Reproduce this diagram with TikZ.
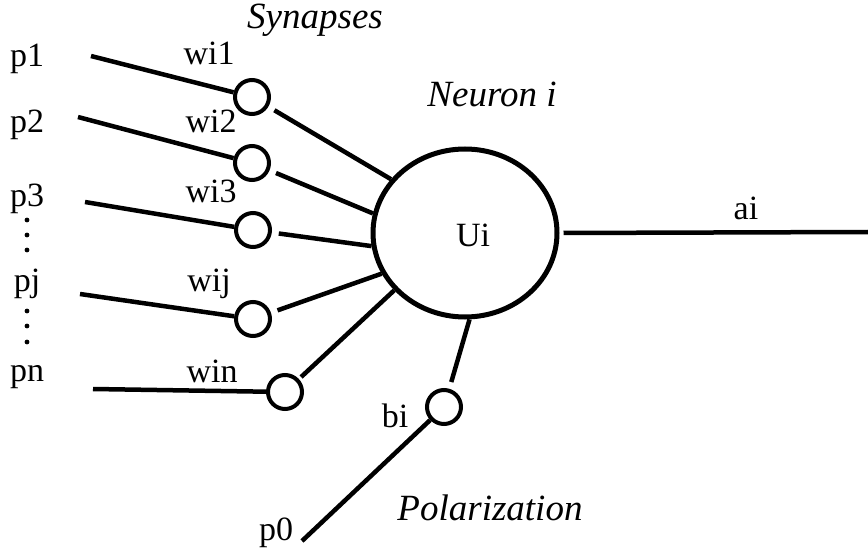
\documentclass[tikz,border=0pt]{standalone}
\usepackage{fontspec}
\setmainfont{Liberation Serif}
\usetikzlibrary{shapes.geometric}
\begin{document}
\begin{tikzpicture}[x=1pt,y=-1pt,
    lbl/.style={anchor=base,inner sep=0pt,font=\fontsize{34}{38}\selectfont},
    title/.style={anchor=base,inner sep=0pt,font=\fontsize{37}{41}\selectfont\itshape},
    syn/.style={circle,draw,line width=4pt,minimum size=34pt,inner sep=0pt},
    wire/.style={line width=4.5pt}]
  \useasboundingbox (0,0) rectangle (868,548);
  % neuron and synapses
  \node[ellipse,draw,line width=5pt,minimum width=184pt,minimum height=168pt,inner sep=0pt] (neuron) at (465,233) {};
  \node[lbl] (ui) at (473,247) {Ui};
  \node[syn] (s1) at (252,97) {};
  \node[syn] (s2) at (252,163) {};
  \node[syn] (s3) at (253,230) {};
  \node[syn] (sj) at (253,319) {};
  \node[syn] (sn) at (285,392) {};
  \node[syn] (sb) at (444,407) {};
  % input labels
  \node[lbl] (p1) at (27,67) {p1};
  \node[lbl] (p2) at (27,133) {p2};
  \node[lbl] (p3) at (27,207) {p3};
  \node[lbl] (pj) at (27,292) {pj};
  \node[lbl] (pn) at (27,381) {pn};
  \node[lbl] (p0) at (276,540) {p0};
  \foreach \y in {220,235,250,311,326,342}
    \fill (27,\y) circle (2.4);
  % weights
  \node[lbl] (w1) at (209,65) {wi1};
  \node[lbl] (w2) at (211,133) {wi2};
  \node[lbl] (w3) at (211,203) {wi3};
  \node[lbl] (wj) at (209,292) {wij};
  \node[lbl] (wn) at (212,382) {win};
  \node[lbl] (bi) at (395,427) {bi};
  \node[lbl] (ai) at (746,220) {ai};
  % titles
  \node[title] (synapses) at (315,29) {Synapses};
  \node[title] (ntitle) at (492,107) {Neuron i};
  \node[title] (polar) at (490,520) {Polarization};
  % line ends
  \coordinate (in1) at (91,56);
  \coordinate (in2) at (78,117);
  \coordinate (in3) at (85,202);
  \coordinate (inj) at (80,294);
  \coordinate (inn) at (93,389);
  \coordinate (in0) at (302,541);
  \coordinate (out) at (868,232);
  \begin{scope}[wire]
    \draw (in1) -- (s1);
    \draw (in2) -- (s2);
    \draw (in3) -- (s3);
    \draw (inj) -- (sj);
    \draw (inn) -- (sn);
    \draw (in0) -- (sb);
    \draw[shorten <=7pt] (s1) -- (neuron.144);
    \draw[shorten <=7pt] (s2) -- (neuron.168);
    \draw[shorten <=7pt] (s3) -- (neuron.188);
    \draw[shorten <=7pt] (sj) -- (neuron.206);
    \draw[shorten <=3pt] (sn) -- (neuron.219);
    \draw[shorten >=7pt] (neuron.273) -- (sb);
    \draw[shorten <=4pt] (neuron.east) -- (out);
  \end{scope}
\end{tikzpicture}
\end{document}
